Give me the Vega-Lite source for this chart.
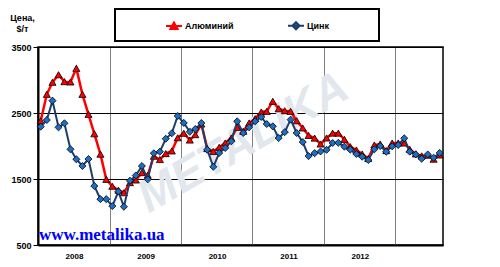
{
  "$schema": "https://vega.github.io/schema/vega-lite/v6.json",
  "width": 405,
  "height": 198,
  "autosize": {"type": "none"},
  "padding": {"left": 38, "top": 47, "right": 57, "bottom": 22},
  "background": "white",
  "config": {
    "font": "Liberation Sans",
    "view": {"stroke": "#000", "strokeWidth": 1.5},
    "axis": {"domainColor": "#000", "domainWidth": 2, "labelColor": "#000", "labelFont": "Liberation Sans", "labelFontWeight": "bold"}
  },
  "datasets": {
    "prices": [
      {"month": "2008-01-15", "Алюминий": 2383, "Цинк": 2293},
      {"month": "2008-02-15", "Алюминий": 2783, "Цинк": 2394},
      {"month": "2008-03-15", "Алюминий": 2965, "Цинк": 2687},
      {"month": "2008-04-15", "Алюминий": 3080, "Цинк": 2283},
      {"month": "2008-05-15", "Алюминий": 2975, "Цинк": 2344},
      {"month": "2008-06-15", "Алюминий": 2970, "Цинк": 1950},
      {"month": "2008-07-15", "Алюминий": 3177, "Цинк": 1799},
      {"month": "2008-08-15", "Алюминий": 2783, "Цинк": 1697},
      {"month": "2008-09-15", "Алюминий": 2480, "Цинк": 1803},
      {"month": "2008-10-15", "Алюминий": 2185, "Цинк": 1394},
      {"month": "2008-11-15", "Алюминий": 1876, "Цинк": 1195},
      {"month": "2008-12-15", "Алюминий": 1495, "Цинк": 1195},
      {"month": "2009-01-15", "Алюминий": 1390, "Цинк": 1090},
      {"month": "2009-02-15", "Алюминий": 1330, "Цинк": 1310},
      {"month": "2009-03-15", "Алюминий": 1293, "Цинк": 1080},
      {"month": "2009-04-15", "Алюминий": 1445, "Цинк": 1474},
      {"month": "2009-05-15", "Алюминий": 1485, "Цинк": 1553},
      {"month": "2009-06-15", "Алюминий": 1597, "Цинк": 1697},
      {"month": "2009-07-15", "Алюминий": 1558, "Цинк": 1495},
      {"month": "2009-08-15", "Алюминий": 1845, "Цинк": 1890},
      {"month": "2009-09-15", "Алюминий": 1795, "Цинк": 1914},
      {"month": "2009-10-15", "Алюминий": 1885, "Цинк": 2110},
      {"month": "2009-11-15", "Алюминий": 1925, "Цинк": 2193},
      {"month": "2009-12-15", "Алюминий": 2125, "Цинк": 2455},
      {"month": "2010-01-15", "Алюминий": 2193, "Цинк": 2350},
      {"month": "2010-02-15", "Алюминий": 2090, "Цинк": 2215},
      {"month": "2010-03-15", "Алюминий": 2172, "Цинк": 2258},
      {"month": "2010-04-15", "Алюминий": 2333, "Цинк": 2348},
      {"month": "2010-05-15", "Алюминий": 1960, "Цинк": 1944},
      {"month": "2010-06-15", "Алюминий": 1917, "Цинк": 1685},
      {"month": "2010-07-15", "Алюминий": 1980, "Цинк": 1894},
      {"month": "2010-08-15", "Алюминий": 2046, "Цинк": 1970},
      {"month": "2010-09-15", "Алюминий": 2121, "Цинк": 2071},
      {"month": "2010-10-15", "Алюминий": 2283, "Цинк": 2374},
      {"month": "2010-11-15", "Алюминий": 2223, "Цинк": 2197},
      {"month": "2010-12-15", "Алюминий": 2348, "Цинк": 2283},
      {"month": "2011-01-15", "Алюминий": 2414, "Цинк": 2374},
      {"month": "2011-02-15", "Алюминий": 2515, "Цинк": 2440},
      {"month": "2011-03-15", "Алюминий": 2525, "Цинк": 2333},
      {"month": "2011-04-15", "Алюминий": 2677, "Цинк": 2298},
      {"month": "2011-05-15", "Алюминий": 2565, "Цинк": 2121},
      {"month": "2011-06-15", "Алюминий": 2535, "Цинк": 2210},
      {"month": "2011-07-15", "Алюминий": 2525, "Цинк": 2399},
      {"month": "2011-08-15", "Алюминий": 2383, "Цинк": 2197},
      {"month": "2011-09-15", "Алюминий": 2273, "Цинк": 2060},
      {"month": "2011-10-15", "Алюминий": 2160, "Цинк": 1847},
      {"month": "2011-11-15", "Алюминий": 2120, "Цинк": 1892},
      {"month": "2011-12-15", "Алюминий": 2030, "Цинк": 1917},
      {"month": "2012-01-15", "Алюминий": 2121, "Цинк": 1942},
      {"month": "2012-02-15", "Алюминий": 2195, "Цинк": 2046},
      {"month": "2012-03-15", "Алюминий": 2195, "Цинк": 2048},
      {"month": "2012-04-15", "Алюминий": 2100, "Цинк": 1990},
      {"month": "2012-05-15", "Алюминий": 1990, "Цинк": 1945},
      {"month": "2012-06-15", "Алюминий": 1940, "Цинк": 1879},
      {"month": "2012-07-15", "Алюминий": 1879, "Цинк": 1838},
      {"month": "2012-08-15", "Алюминий": 1810, "Цинк": 1788},
      {"month": "2012-09-15", "Алюминий": 2015, "Цинк": 1950},
      {"month": "2012-10-15", "Алюминий": 2030, "Цинк": 2000},
      {"month": "2012-11-15", "Алюминий": 1930, "Цинк": 1914},
      {"month": "2012-12-15", "Алюминий": 2045, "Цинк": 1995},
      {"month": "2013-01-15", "Алюминий": 2045, "Цинк": 2015},
      {"month": "2013-02-15", "Алюминий": 2045, "Цинк": 2117},
      {"month": "2013-03-15", "Алюминий": 1950, "Цинк": 1914},
      {"month": "2013-04-15", "Алюминий": 1880, "Цинк": 1872},
      {"month": "2013-05-15", "Алюминий": 1850, "Цинк": 1807},
      {"month": "2013-06-15", "Алюминий": 1860, "Цинк": 1872},
      {"month": "2013-07-15", "Алюминий": 1800, "Цинк": 1822},
      {"month": "2013-08-15", "Алюминий": 1864, "Цинк": 1895}
    ],
    "notes": [
      {"month": "2010-11-15", "value": 2050, "label": "METALIKA", "kind": "mark"},
      {"month": "2008-01-01", "value": 576, "label": "www.metalika.ua", "kind": "url"}
    ]
  },
  "encoding": {
    "x": {
      "field": "month",
      "type": "temporal",
      "scale": {"type": "utc", "domain": [{"year": 2008, "month": 1, "date": 1, "utc": true}, {"year": 2013, "month": 9, "date": 1, "utc": true}]},
      "axis": {
        "title": null,
        "values": [
          {"year": 2008, "month": 1, "date": 1, "utc": true},
          {"year": 2009, "month": 1, "date": 1, "utc": true},
          {"year": 2010, "month": 1, "date": 1, "utc": true},
          {"year": 2011, "month": 1, "date": 1, "utc": true},
          {"year": 2012, "month": 1, "date": 1, "utc": true},
          {"year": 2013, "month": 1, "date": 1, "utc": true}
        ],
        "labelExpr": "utcyear(datum.value) >= 2013 ? '' : utcFormat(datum.value, '%Y')",
        "labelOffset": 36,
        "labelAlign": "center",
        "labelFontSize": 8,
        "labelPadding": 7,
        "ticks": false,
        "grid": true,
        "gridColor": "#808080",
        "gridWidth": 1
      }
    },
    "y": {
      "field": "value",
      "type": "quantitative",
      "scale": {"domain": [500, 3500], "nice": false, "zero": false},
      "axis": {
        "values": [500, 1500, 2500, 3500],
        "format": "d",
        "title": ["Цена,", "$/т"],
        "titleAngle": 0,
        "titleX": -16,
        "titleY": -27,
        "titleAlign": "center",
        "titleBaseline": "alphabetic",
        "titleFontSize": 9,
        "titleFontWeight": "bold",
        "titleLineHeight": 11,
        "titleColor": "#000",
        "labelFontSize": 9,
        "labelPadding": 2,
        "tickSize": 5,
        "tickColor": "#000",
        "grid": true,
        "gridColor": "#000",
        "gridWidth": 1
      }
    }
  },
  "layer": [
    {
      "data": {"name": "notes"},
      "transform": [{"filter": "datum.kind == 'mark'"}],
      "mark": {"type": "text", "angle": -30, "fontSize": 46, "fontWeight": "bold", "fontStyle": "italic", "color": "#e2e7ed", "align": "center", "baseline": "middle"},
      "encoding": {"text": {"field": "label"}}
    },
    {
      "data": {"name": "notes"},
      "transform": [{"filter": "datum.kind == 'url'"}],
      "mark": {"type": "text", "font": "Liberation Serif", "fontSize": 17, "fontWeight": "bold", "color": "#0000ff", "align": "left", "baseline": "alphabetic", "dx": 1},
      "encoding": {"text": {"field": "label"}}
    },
    {
      "data": {"name": "prices"},
      "transform": [{"fold": ["Алюминий", "Цинк"], "as": ["series", "value"]}, {"filter": "datum.series == 'Алюминий'"}],
      "mark": {"type": "line", "strokeWidth": 2.5},
      "encoding": {
        "color": {
          "field": "series",
          "type": "nominal",
          "scale": {"domain": ["Алюминий", "Цинк"], "range": ["#ff0000", "#1f3d6b"]},
          "legend": {
            "orient": "none",
            "legendX": 77,
            "legendY": -38,
            "direction": "horizontal",
            "title": "00000000",
            "titleOrient": "left",
            "titlePadding": 1.5,
            "titleFontSize": 9,
            "titleFontWeight": "bold",
            "titleColor": "#ffffff",
            "padding": 7.5,
            "fillColor": "#fff",
            "strokeColor": "#000",
            "columnPadding": 50,
            "labelFontSize": 9,
            "labelFontWeight": "bold",
            "labelColor": "#000",
            "labelOffset": 2,
            "labelExpr": "datum.label == 'Цинк' ? 'Цинк\u2800\u2800\u2800\u2800\u2800\u2800' : datum.label",
            "symbolSize": 256,
            "encode": {
              "legend": {"update": {"strokeWidth": {"value": 2}}},
              "symbols": {"update": {
                "shape": {"signal": "datum.value == 'Алюминий' ? 'M-1,0H1M-0.45,0.4L0,-0.42L0.45,0.4Z' : 'M-1,0H1M0,-0.45L0.45,0L0,0.45L-0.45,0Z'"},
                "fill": {"signal": "datum.value == 'Алюминий' ? '#ff0000' : '#1c6fc4'"},
                "stroke": {"signal": "datum.value == 'Алюминий' ? '#ff0000' : '#1f3d6b'"},
                "strokeWidth": {"value": 2},
                "opacity": {"value": 1}
              }}
            }
          }
        }
      }
    },
    {
      "data": {"name": "prices"},
      "transform": [{"fold": ["Алюминий", "Цинк"], "as": ["series", "value"]}, {"filter": "datum.series == 'Алюминий'"}],
      "mark": {"type": "point", "shape": "triangle-up", "filled": true, "fill": "#ff0000", "stroke": "#000", "strokeWidth": 0.8, "size": 50, "opacity": 1}
    },
    {
      "data": {"name": "prices"},
      "transform": [{"fold": ["Алюминий", "Цинк"], "as": ["series", "value"]}, {"filter": "datum.series == 'Цинк'"}],
      "mark": {"type": "line", "strokeWidth": 2},
      "encoding": {
        "color": {
          "field": "series",
          "type": "nominal",
          "scale": {"domain": ["Алюминий", "Цинк"], "range": ["#ff0000", "#1f3d6b"]}
        }
      }
    },
    {
      "data": {"name": "prices"},
      "transform": [{"fold": ["Алюминий", "Цинк"], "as": ["series", "value"]}, {"filter": "datum.series == 'Цинк'"}],
      "mark": {"type": "point", "shape": "diamond", "filled": true, "fill": "#1c6fc4", "stroke": "#000", "strokeWidth": 0.8, "size": 50, "opacity": 1}
    }
  ]
}
